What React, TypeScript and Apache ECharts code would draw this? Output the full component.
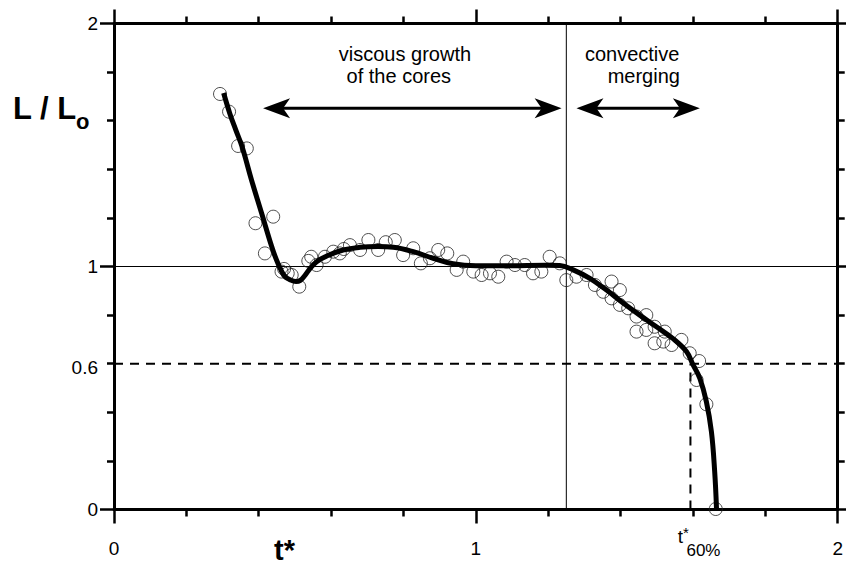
import React, { useEffect, useRef } from 'react';
import * as echarts from 'echarts';

const FONT = '"Liberation Sans", Arial, Helvetica, sans-serif';

// fitted curve L/Lo vs t*
const fitCurve: number[][] = [
  [0.303, 1.714], [0.32, 1.63], [0.337, 1.56], [0.354, 1.493], [0.38, 1.356], [0.408, 1.219],
  [0.436, 1.081], [0.449, 1.027], [0.46, 0.99], [0.472, 0.96], [0.488, 0.944], [0.503, 0.938],
  [0.515, 0.943], [0.527, 0.962], [0.541, 0.99], [0.56, 1.02], [0.588, 1.043], [0.633, 1.068],
  [0.68, 1.079], [0.73, 1.082], [0.772, 1.079], [0.827, 1.061], [0.882, 1.034], [0.937, 1.011],
  [1.0, 1.003], [1.094, 1.003], [1.19, 1.005], [1.232, 1.004], [1.269, 0.986], [1.315, 0.951],
  [1.361, 0.903], [1.407, 0.85], [1.453, 0.8], [1.499, 0.752], [1.545, 0.703], [1.582, 0.65],
  [1.6, 0.596], [1.619, 0.54], [1.637, 0.444], [1.651, 0.32], [1.66, 0.156], [1.665, 0.005],
];

// measured points
const measured: number[][] = [
  [0.293, 1.71], [0.318, 1.637], [0.343, 1.496], [0.367, 1.486], [0.391, 1.178], [0.44, 1.205],
  [0.417, 1.054], [0.463, 0.979], [0.47, 0.99], [0.48, 0.972], [0.491, 0.965], [0.512, 0.917],
  [0.537, 1.023], [0.545, 1.04], [0.56, 1.006], [0.583, 1.04], [0.606, 1.061], [0.624, 1.054],
  [0.635, 1.072], [0.652, 1.088], [0.68, 1.068], [0.703, 1.109], [0.73, 1.068], [0.751, 1.1],
  [0.776, 1.109], [0.799, 1.047], [0.827, 1.075], [0.848, 1.013], [0.873, 1.034], [0.896, 1.068],
  [0.921, 1.054], [0.947, 0.986], [0.965, 1.02], [0.993, 0.979], [1.016, 0.965], [1.039, 0.972],
  [1.062, 0.958], [1.085, 1.02], [1.108, 1.006], [1.135, 1.006], [1.158, 0.972], [1.181, 0.979],
  [1.204, 1.04], [1.232, 1.013], [1.25, 0.944], [1.278, 0.958], [1.306, 0.965], [1.329, 0.924],
  [1.352, 0.896], [1.375, 0.938], [1.398, 0.903], [1.375, 0.869], [1.398, 0.842], [1.421, 0.828],
  [1.444, 0.794], [1.471, 0.8], [1.444, 0.732], [1.471, 0.739], [1.494, 0.752], [1.522, 0.732],
  [1.494, 0.684], [1.518, 0.691], [1.541, 0.677], [1.568, 0.698], [1.591, 0.643], [1.617, 0.611],
  [1.61, 0.533], [1.637, 0.433], [1.663, 0.002],
];

// reference lines
const unityLine: number[][] = [[0, 1], [2, 1]];
const regimeBoundary: number[][] = [[1.25, 0], [1.25, 2]];
const thresholdLine: number[][] = [[0, 0.6], [2, 0.6]];
const t60Line: number[][] = [[1.593, 0], [1.593, 0.6]];

// annotation arrows [xStart, xEnd] at height arrowY
const arrowY = 1.651;
const viscousArrow = [0.412, 1.237];
const convectiveArrow = [1.278, 1.619];

// annotation texts
const viscousText = ['viscous growth', 'of the cores'];
const viscousTextX = [0.804, 0.787];
const convectiveText = ['convective', 'merging'];
const convectiveTextX = [1.432, 1.464];
const textRowsY = [1.875, 1.785];

const yExtraTick = { value: 0.6, label: '0.6' };
const xExtraTick = { value: 1.593, main: 't', sup: '*', sub: '60%' };

export default function App() {
  const ref = useRef<HTMLDivElement>(null);
  useEffect(() => {
    const chart = echarts.init(ref.current!, null, { renderer: 'svg' });
    const tickStyle = { color: '#000', width: 2.5 };
    const makeAxis = (position: string, showLabel: boolean, isY: boolean) => ({
      type: 'value',
      min: 0,
      max: 2,
      interval: 1,
      position,
      axisLine: { show: true, onZero: false, lineStyle: { color: '#000', width: 3 } },
      axisTick: { show: true, inside: false, length: 14, lineStyle: tickStyle },
      minorTick: { show: true, splitNumber: 5, length: 7, lineStyle: tickStyle },
      axisLabel: isY
        ? { show: showLabel, margin: 16, fontSize: 19, color: '#000', fontFamily: FONT, padding: [7, 0, 0, 0] }
        : { show: showLabel, margin: 29, fontSize: 19, color: '#000', fontFamily: FONT },
      splitLine: { show: false },
      minorSplitLine: { show: false },
    });
    const refLine = (data: number[][], width: number, type: any) => ({
      type: 'line',
      data,
      symbol: 'none',
      silent: true,
      lineStyle: { color: '#000', width, type },
      z: 1,
    });
    chart.setOption({
      animation: false,
      backgroundColor: '#fff',
      grid: { left: 114, right: 8, top: 23.5, bottom: 60.5, containLabel: false },
      xAxis: [makeAxis('bottom', true, false), makeAxis('top', false, false)],
      yAxis: [makeAxis('left', true, true), makeAxis('right', false, true)],
      series: [
        refLine(unityLine, 1, 'solid'),
        refLine(regimeBoundary, 1, 'solid'),
        refLine(thresholdLine, 2, [9, 7]),
        refLine(t60Line, 2, [9, 7]),
        {
          type: 'scatter',
          data: measured,
          symbol: 'circle',
          symbolSize: 13,
          itemStyle: { color: 'rgba(0,0,0,0)', borderColor: '#222', borderWidth: 1 },
          z: 2,
        },
        {
          type: 'line',
          data: fitCurve,
          symbol: 'none',
          smooth: 0.4,
          lineStyle: { color: '#000', width: 5 },
          z: 3,
        },
      ],
    });

    const px = (x: number, y: number) =>
      chart.convertToPixel({ xAxisIndex: 0, yAxisIndex: 0 } as any, [x, y]) as number[];
    const text = (t: string, x: number, y: number, font: string, align: string, valign = 'middle') => ({
      type: 'text',
      x,
      y,
      silent: true,
      style: {
        text: t,
        font,
        fill: '#000',
        textAlign: align,
        align,
        textVerticalAlign: valign,
        verticalAlign: valign,
      },
    });
    const arrow = (x1: number, x2: number, y: number) => {
      const a = px(x1, y);
      const b = px(x2, y);
      const L = 27, H = 10, N = 20;
      return [
        { type: 'line', silent: true, shape: { x1: a[0] + 10, y1: a[1], x2: b[0] - 10, y2: b[1] }, style: { stroke: '#000', lineWidth: 3 } },
        { type: 'polygon', silent: true, shape: { points: [[a[0], a[1]], [a[0] + L, a[1] - H], [a[0] + N, a[1]], [a[0] + L, a[1] + H]] }, style: { fill: '#000' } },
        { type: 'polygon', silent: true, shape: { points: [[b[0], b[1]], [b[0] - L, b[1] - H], [b[0] - N, b[1]], [b[0] - L, b[1] + H]] }, style: { fill: '#000' } },
      ];
    };
    const y06 = px(0, yExtraTick.value);
    const t60 = px(xExtraTick.value, 0);
    const origin = px(0, 0);
    const elements: any[] = [
      text(yExtraTick.label, y06[0] - 16, y06[1] + 3.5, `19px ${FONT}`, 'right'),
      text(xExtraTick.main, t60[0] - 7.5, t60[1] + 27, `19px ${FONT}`, 'right'),
      text(xExtraTick.sup, t60[0] - 7.5, t60[1] + 23, `15px ${FONT}`, 'left'),
      text(xExtraTick.sub, t60[0] - 4, t60[1] + 41, `17px ${FONT}`, 'left'),
      text('L / L', 13, 108.5, `bold 31px ${FONT}`, 'left'),
      text('o', 76, 121.5, `bold 22px ${FONT}`, 'left'),
      text('t*', 274, origin[1] + 40, `bold 29px ${FONT}`, 'left'),
      ...arrow(viscousArrow[0], viscousArrow[1], arrowY),
      ...arrow(convectiveArrow[0], convectiveArrow[1], arrowY),
    ];
    viscousText.forEach((t, i) => {
      const p = px(viscousTextX[i], textRowsY[i]);
      elements.push(text(t, p[0], p[1], `20px ${FONT}`, 'center'));
    });
    convectiveText.forEach((t, i) => {
      const p = px(convectiveTextX[i], textRowsY[i]);
      elements.push(text(t, p[0], p[1], `20px ${FONT}`, 'center'));
    });
    chart.setOption({ graphic: elements });
    return () => chart.dispose();
  }, []);
  return (
    <div
      ref={ref}
      style={{ position: 'fixed', left: 0, top: 0, width: 846, height: 570, background: '#fff' }}
    />
  );
}
